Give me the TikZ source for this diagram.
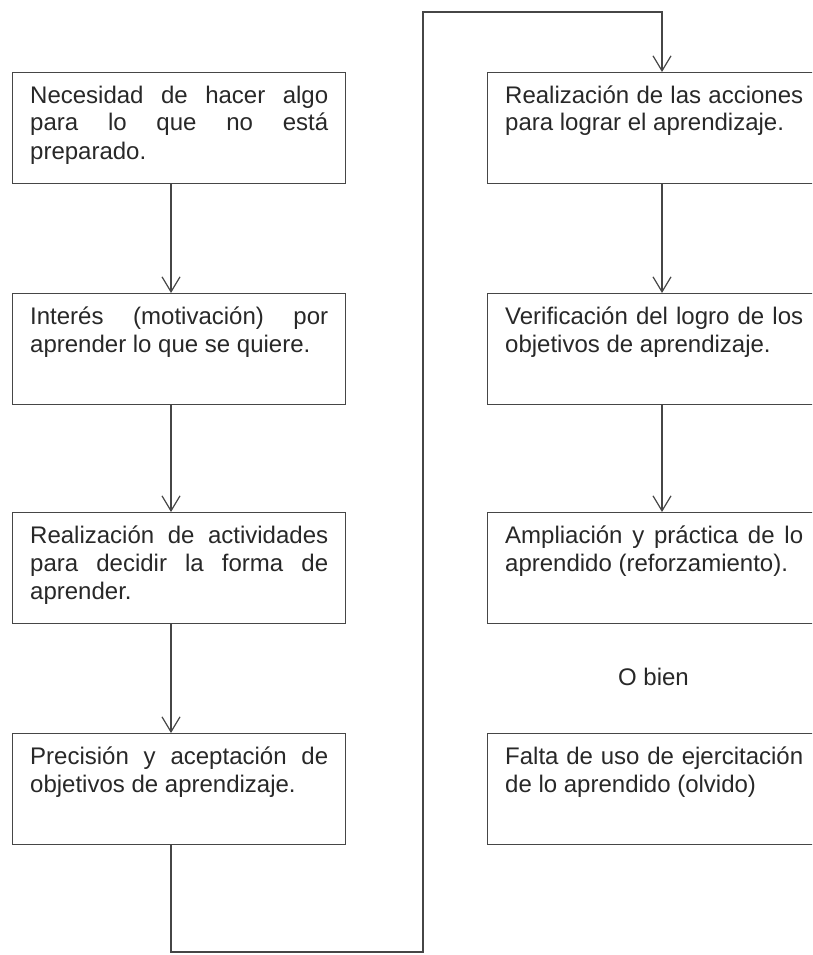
\documentclass[tikz,border=0pt]{standalone}
\usepackage{fontspec}
\setmainfont{Liberation Sans}
\usetikzlibrary{arrows.meta}
\definecolor{ink}{RGB}{40,40,40}
\definecolor{linec}{RGB}{70,70,70}
\tikzset{
  boxnode/.style={draw=linec, line width=1.3pt, minimum width=333pt, minimum height=111pt, anchor=north west, inner sep=0pt},
  txtnode/.style={anchor=base west, inner sep=0pt, text=ink, font=\fontsize{24}{28}\selectfont},
  conn/.style={draw=linec, line width=1.3pt},
  arr/.style={conn, -{Straight Barb[length=15pt,width=18pt,line width=1.2pt]}}
}
\newcommand{\boxtext}[1]{\parbox[t]{298pt}{\fontsize{24}{28}\selectfont\hyphenpenalty=10000\justifying #1}}
\newcommand{\justifying}{\rightskip=0pt plus 0pt\parfillskip=0pt plus 1fil}
\begin{document}
\begin{tikzpicture}[x=1pt,y=-1pt]
\clip (0,0) rectangle (812,955);
\fill[white] (0,0) rectangle (812,955);
% columns of connectors
\coordinate (lc) at (171,0);
\coordinate (rc) at (662,0);
% left boxes
\node[boxnode] (b1) at (12,72) {};
\node[boxnode] (b2) at (12,293) {};
\node[boxnode] (b3) at (12,512) {};
\node[boxnode] (b4) at (12,733) {};
% right boxes
\node[boxnode] (r1) at (487,72) {};
\node[boxnode] (r2) at (487,293) {};
\node[boxnode] (r3) at (487,512) {};
\node[boxnode] (r4) at (487,733) {};
% texts
\node[txtnode] (t1) at (30,103) {\boxtext{Necesidad de hacer algo\linebreak para lo que no está\linebreak preparado.}};
\node[txtnode] (t2) at (30,324) {\boxtext{Interés (motivación) por\linebreak aprender lo que se quiere.}};
\node[txtnode] (t3) at (30,543) {\boxtext{Realización de actividades\linebreak para decidir la forma de\linebreak aprender.}};
\node[txtnode] (t4) at (30,764) {\boxtext{Precisión y aceptación de\linebreak objetivos de aprendizaje.}};
\node[txtnode] (s1) at (505,103) {\boxtext{Realización de las acciones\linebreak para lograr el aprendizaje.}};
\node[txtnode] (s2) at (505,324) {\boxtext{Verificación del logro de los\linebreak objetivos de aprendizaje.}};
\node[txtnode] (s3) at (505,543) {\boxtext{Ampliación y práctica de lo\linebreak aprendido (reforzamiento).}};
\node[txtnode] (s4) at (505,764) {\boxtext{Falta de uso de ejercitación\linebreak de lo aprendido (olvido)}};
\node[anchor=base, inner sep=0pt, text=ink, font=\fontsize{24}{28}\selectfont] (ob) at (653.5,685) {O bien};
% connectors
\draw[arr] (b1.south -| lc) -- (b2.north -| lc);
\draw[arr] (b2.south -| lc) -- (b3.north -| lc);
\draw[arr] (b3.south -| lc) -- (b4.north -| lc);
\coordinate (p1) at (171,952);
\coordinate (p2) at (423,952);
\coordinate (p3) at (423,12);
\coordinate (p4) at (662,12);
\draw[arr] (b4.south -| lc) -- (p1) -- (p2) -- (p3) -- (p4) -- (r1.north -| rc);
\draw[arr] (r1.south -| rc) -- (r2.north -| rc);
\draw[arr] (r2.south -| rc) -- (r3.north -| rc);
\end{tikzpicture}
\end{document}
